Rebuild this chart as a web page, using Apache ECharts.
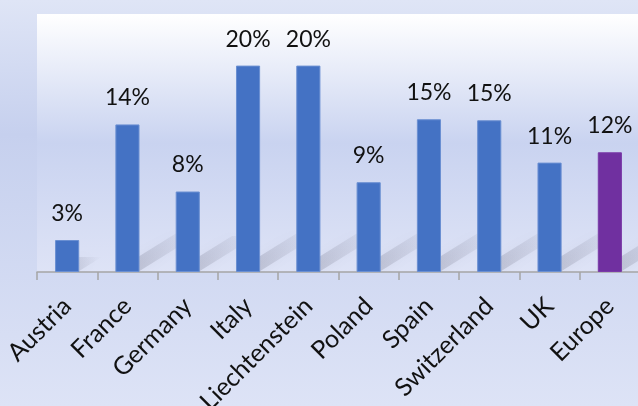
<!DOCTYPE html>
<html><head><meta charset="utf-8">
<script src="https://cdn.jsdelivr.net/npm/echarts@6/dist/echarts.min.js"></script>
<style>html,body{margin:0;padding:0;}#c{width:638px;height:406px;}</style>
</head><body><div id="c"></div>
<script>
const categories = ['Austria','France','Germany','Italy','Liechtenstein','Poland','Spain','Switzerland','UK','Europe'];
const values = [3.1, 14.3, 7.8, 20.0, 20.0, 8.7, 14.8, 14.7, 10.6, 11.6];
const barColors = ['#4472C4','#4472C4','#4472C4','#4472C4','#4472C4','#4472C4','#4472C4','#4472C4','#4472C4','#7030A0'];

const chart = echarts.init(document.getElementById('c'));
const G = echarts.graphic;
chart.setOption({
  backgroundColor: new G.LinearGradient(0,0,0,1,[
    {offset:0,color:'#dfe5f6'},{offset:0.33,color:'#c6d0ee'},{offset:1,color:'#dde3f6'}]),
  animation:false,
  grid:{left:37, top:14, width:603, height:258, show:true, borderWidth:0,
    outerBoundsMode:'none', containLabel:false,
    backgroundColor: new G.LinearGradient(0,0,0,1,[
      {offset:0,color:'#ffffff'},{offset:0.5,color:'#c9d3f0'},{offset:1,color:'#dee3f6'}])},
  xAxis:{type:'category', data:categories,
    axisLine:{lineStyle:{color:'#a5a5a5', width:1.5}},
    axisTick:{show:true, length:8, lineStyle:{color:'#a5a5a5', width:1.5}},
    axisLabel:{rotate:45, fontFamily:'Lato', fontSize:25, color:'#111', margin:30, interval:0}},
  yAxis:{type:'value', min:0, max:25, show:false, splitLine:{show:false}},
  series:[
    {type:'custom', silent:true, z:1, clip:true,
     renderItem:function(params, api){
       const base = api.coord([api.value(0), 0]);
       const top = api.coord([api.value(0), api.value(1)]);
       const w = api.size([1,0])[0]*0.4;
       const h = base[1]-top[1];
       const L = Math.min(h*0.7, 60);
       const k = 0.62;
       const x0 = base[0]-w/2, x1 = base[0]+w/2, y = base[1]-1;
       return {type:'polygon', shape:{points:[[x0,y],[x1,y],[x1+L,y-L*k],[x0+L,y-L*k]]},
         style:{fill:new G.LinearGradient(0,1,1,0,[{offset:0,color:'rgba(80,80,100,0.26)'},{offset:1,color:'rgba(80,80,100,0)'}]),
           shadowBlur:12, shadowColor:'rgba(80,80,100,0.3)'}};
     },
     data: values.map((v,i)=>[i,v])},
    {type:'bar', z:2, barWidth:'40%', data: values.map((v,i)=>({value:v, itemStyle:{color:barColors[i], borderColor: i===9?'#7a3aa8':'#6a8fd2', borderWidth:1}})),
     label:{show:true, position:'top', distance:15, fontFamily:'Lato', fontSize:23, color:'#111',
       formatter:function(p){return Math.round(p.value)+'%';}}}
  ]
});
</script></body></html>
